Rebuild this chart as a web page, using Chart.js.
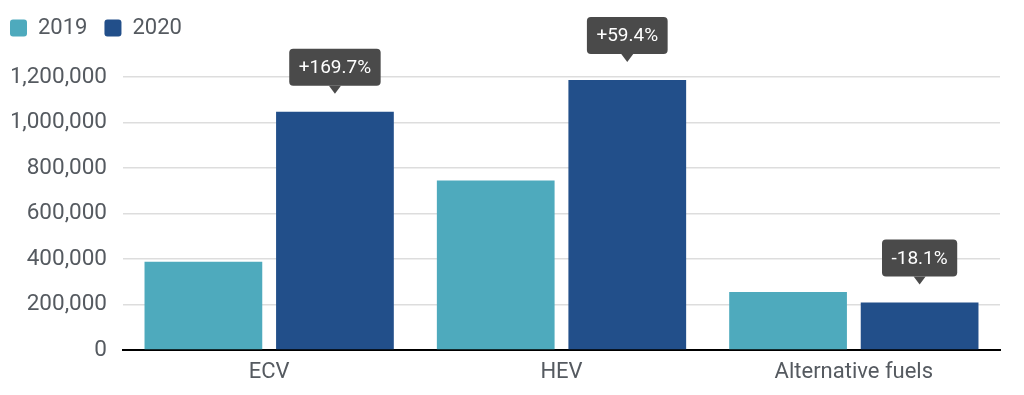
<!DOCTYPE html>
<html>
<head>
<meta charset="utf-8">
<script src="https://cdn.jsdelivr.net/npm/chart.js@4/dist/chart.umd.min.js"></script>
<style>
  html, body { margin: 0; padding: 0; background: #fff; }
  #wrap { width: 1024px; height: 395px; }
</style>
</head>
<body>
<div id="wrap"><canvas id="chart"></canvas></div>
<script>
// categorias y valores
const categories = ['ECV', 'HEV', 'Alternative fuels'];
const values2019 = [388000, 745000, 255000];
const values2020 = [1047000, 1187000, 209000];
const changeLabels = ['+169.7%', '+59.4%', '-18.1%'];
const yTicks = [0, 200000, 400000, 600000, 800000, 1000000, 1200000];

const textColor = '#555a60';
const fontFamily = 'Roboto, "Noto Sans", sans-serif';

// etiquetas tipo globo encima de las barras de 2020
const changeBubbles = {
    id: 'changeBubbles',
    afterDatasetsDraw(chart) {
        const ctx = chart.ctx;
        const meta = chart.getDatasetMeta(1);
        ctx.save();
        ctx.font = '19px ' + fontFamily;
        meta.data.forEach(function (bar, i) {
            const text = changeLabels[i];
            const w = ctx.measureText(text).width + 19;
            const h = 37;
            const tip = bar.y - 18;
            const bottom = tip - 8;
            const left = bar.x - w / 2;
            ctx.fillStyle = '#4a4a4a';
            ctx.beginPath();
            ctx.roundRect(left, bottom - h, w, h, 4);
            ctx.fill();
            ctx.beginPath();
            ctx.moveTo(bar.x - 6, bottom);
            ctx.lineTo(bar.x + 6, bottom);
            ctx.lineTo(bar.x, tip);
            ctx.closePath();
            ctx.fill();
            ctx.fillStyle = '#ffffff';
            ctx.textAlign = 'center';
            ctx.textBaseline = 'middle';
            ctx.fillText(text, bar.x, bottom - h / 2 + 1);
        });
        ctx.restore();
    }
};

// espacio extra debajo de la leyenda y leyenda pegada a la izquierda
const legendSpace = {
    id: 'legendSpace',
    beforeInit(chart) {
        const fit = chart.legend.fit;
        chart.legend.fit = function () {
            fit.bind(chart.legend)();
            this.height += 28;
        };
    },
    beforeDraw(chart) {
        chart.legend.left = -7;
    }
};

const chart = new Chart(document.getElementById('chart'), {
    type: 'bar',
    data: {
        labels: categories,
        datasets: [{
            label: '2019',
            data: values2019,
            backgroundColor: '#4eaabd'
        }, {
            label: '2020',
            data: values2020,
            backgroundColor: '#224f8a'
        }]
    },
    options: {
        responsive: true,
        maintainAspectRatio: false,
        animation: false,
        categoryPercentage: 0.9,
        barPercentage: 0.895,
        layout: { padding: { left: 12, right: 24, top: 0, bottom: 0 } },
        plugins: {
            tooltip: { enabled: false },
            legend: {
                position: 'top',
                align: 'start',
                labels: {
                    boxWidth: 17,
                    boxHeight: 17,
                    useBorderRadius: true,
                    borderRadius: 3,
                    padding: 17,
                    color: textColor,
                    font: { family: fontFamily, size: 22 }
                }
            }
        },
        scales: {
            x: {
                grid: { display: false, drawTicks: false },
                border: { display: true, color: '#000', width: 2 },
                afterFit(scale) { scale.height = 45; },
                ticks: {
                    color: textColor,
                    padding: 9,
                    font: { family: fontFamily, size: 22 }
                }
            },
            y: {
                min: 0,
                max: 1200000,
                afterBuildTicks(axis) {
                    axis.ticks = yTicks.map(v => ({ value: v }));
                },
                afterFit(scale) { scale.width = 111; },
                grid: { color: '#dddddd', lineWidth: 1.5, drawTicks: false },
                border: { display: false },
                ticks: {
                    color: textColor,
                    padding: 16,
                    font: { family: fontFamily, size: 22.5 },
                    callback: v => v.toLocaleString('en-US')
                }
            }
        }
    },
    plugins: [changeBubbles, legendSpace]
});
</script>
</body>
</html>
